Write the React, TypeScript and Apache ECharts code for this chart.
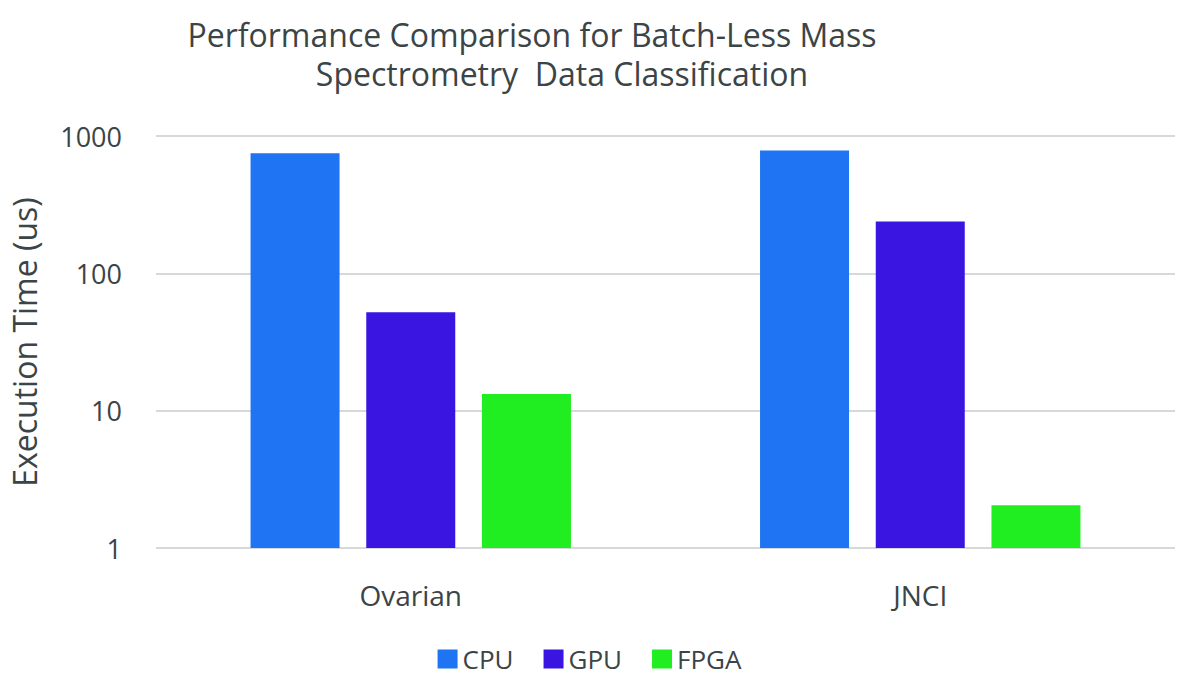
import React, { useEffect, useRef } from "react";
import * as echarts from "echarts";

const categories = ["Ovarian", "JNCI"];
const cpuValues = [750, 785];
const gpuValues = [52, 238];
const fpgaValues = [13.2, 2.05];
const seriesNames = ["CPU", "GPU", "FPGA"];
const colors = ["#1E74F2", "#3A15E2", "#20EE20"];
const titleLine1 = "Performance Comparison for Batch-Less Mass";
const titleLine2 = "Spectrometry  Data Classification";

export default function App() {
  const ref = useRef<HTMLDivElement>(null);
  useEffect(() => {
    if (!ref.current) return;
    const chart = echarts.init(ref.current, undefined, { renderer: "svg" });
    const font = "'Open Sans', 'Noto Sans', sans-serif";
    const textColor = "#3b4446";
    const data = [cpuValues, gpuValues, fpgaValues];
    const lineStyle = {
      fontFamily: font,
      fontSize: 32,
      fontWeight: "normal",
      color: textColor,
      lineHeight: 39,
    };
    chart.setOption({
      animation: false,
      textStyle: { fontFamily: font },
      title: {
        text: "{a|" + titleLine1 + "}\n{b|" + titleLine2 + "}",
        left: 532,
        textAlign: "center",
        top: 15,
        padding: 0,
        textStyle: {
          ...lineStyle,
          rich: {
            a: { ...lineStyle },
            b: { ...lineStyle, padding: [0, 0, 0, 60] },
          },
        },
      },
      legend: {
        top: 645,
        left: "center",
        icon: "rect",
        itemWidth: 20,
        itemHeight: 19,
        itemGap: 30,
        padding: 0,
        textStyle: { fontFamily: font, fontSize: 26, color: textColor, lineHeight: 28 },
        data: seriesNames,
      },
      grid: { left: 140, right: 4, top: 136, bottom: 132 },
      xAxis: {
        type: "category",
        data: categories,
        axisLine: { show: false },
        axisTick: { show: false },
        axisLabel: { fontFamily: font, fontSize: 28, color: textColor, margin: 33 },
      },
      yAxis: {
        type: "log",
        logBase: 10,
        min: 1,
        max: 1000,
        name: "Execution Time (us)",
        nameLocation: "middle",
        nameGap: 116,
        nameTextStyle: { fontFamily: font, fontSize: 32, color: textColor },
        axisLine: { show: false },
        axisTick: { show: false },
        axisLabel: {
          fontFamily: font,
          fontSize: 27,
          color: textColor,
          margin: 34,
          formatter: (v: number) => String(Math.round(v)),
        },
        splitLine: { lineStyle: { color: "#d5d9d9", width: 2 } },
      },
      series: seriesNames.map((n, i) => ({
        name: n,
        type: "bar",
        data: data[i],
        barWidth: 89,
        barGap: "30%",
        itemStyle: { color: colors[i] },
      })),
    });
    return () => chart.dispose();
  }, []);
  return (
    <div
      ref={ref}
      style={{ position: "absolute", left: 0, top: 0, width: 1179, height: 680 }}
    />
  );
}
